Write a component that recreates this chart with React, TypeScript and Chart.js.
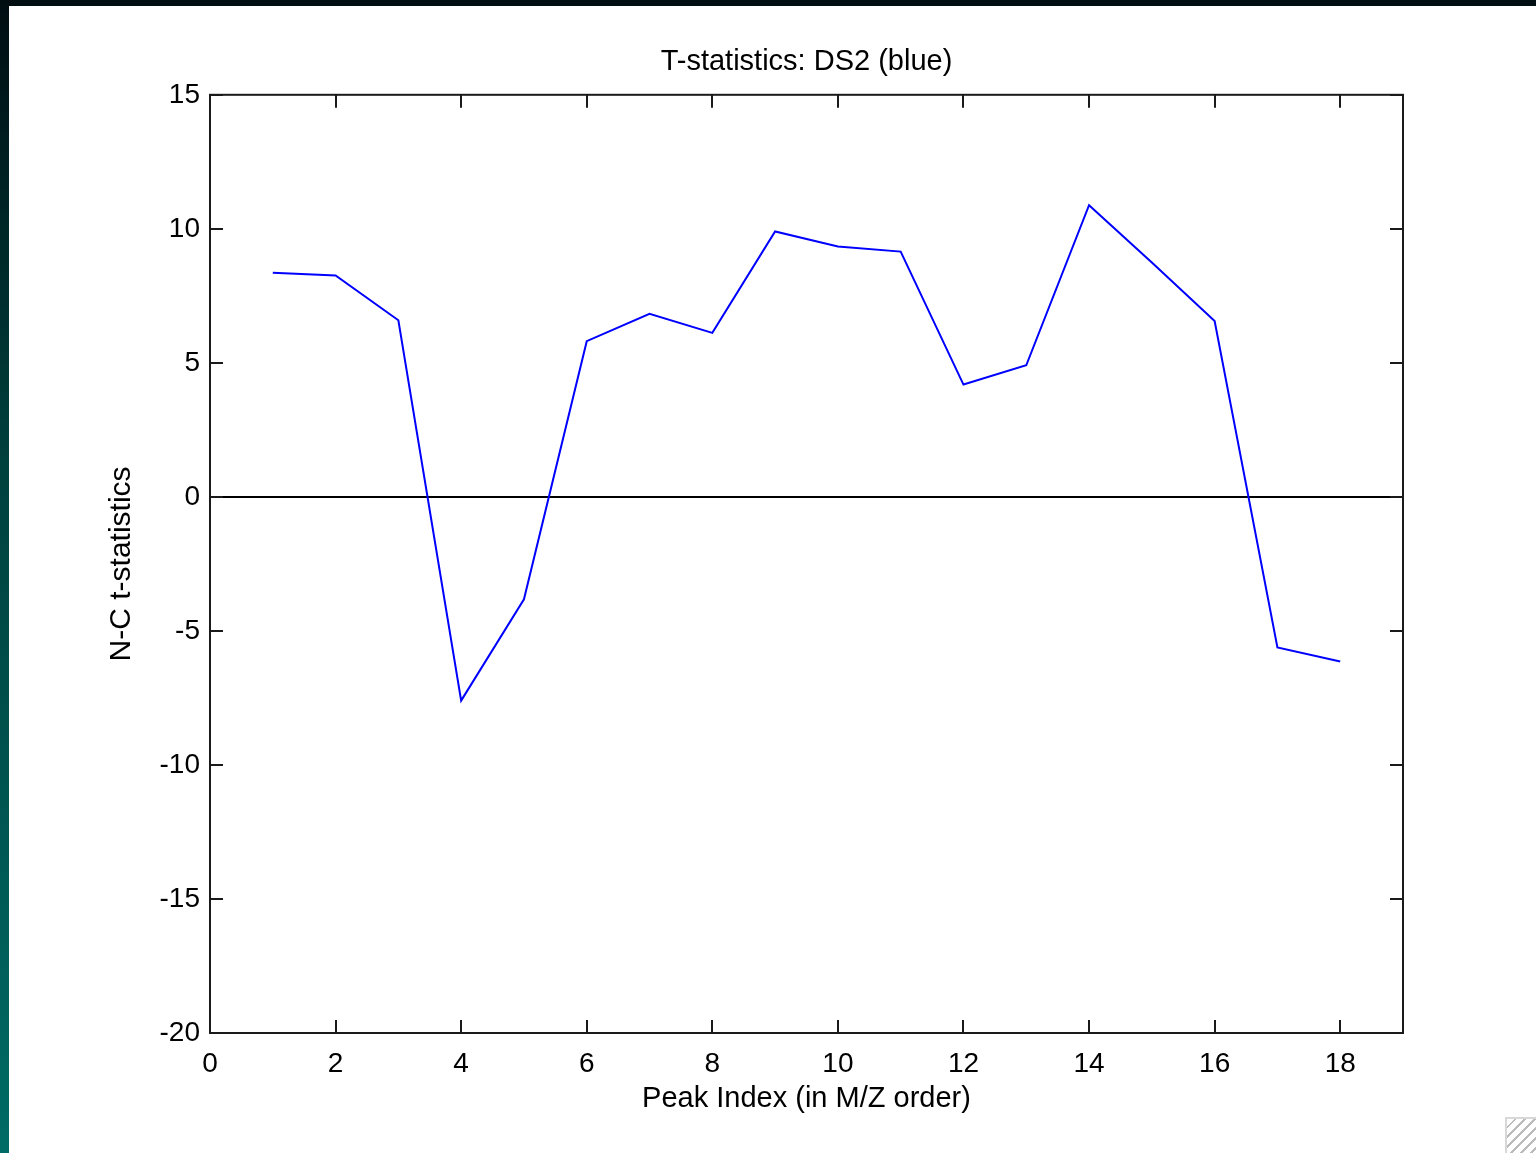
import { useEffect, useRef } from "react";
import { Chart, registerables } from "chart.js";

Chart.register(...registerables);

// peak index (x) and N-C t-statistic (y)
const peakIndex = [1, 2, 3, 4, 5, 6, 7, 8, 9, 10, 11, 12, 13, 14, 15, 16, 17, 18];
const tStats = [
  8.36, 8.26, 6.59, -7.6, -3.82, 5.81, 6.83, 6.12, 9.9, 9.34, 9.15, 4.19, 4.91,
  10.88, 8.74, 6.56, -5.62, -6.14,
];
const xTicks = [0, 2, 4, 6, 8, 10, 12, 14, 16, 18];
const yTicks = [-20, -15, -10, -5, 0, 5, 10, 15];

const FONT = '"Liberation Sans", Arial, Helvetica, sans-serif';

// MATLAB style box with inward tick marks on all four sides
const boxPlugin = {
  id: "matlabBox",
  afterDraw(chart: any) {
    const { ctx, chartArea: a } = chart;
    const xs = chart.scales.x;
    const ys = chart.scales.y;
    const len = 13;
    ctx.save();
    ctx.strokeStyle = "#1a1a1a";
    ctx.lineWidth = 2;
    ctx.strokeRect(a.left, a.top, a.right - a.left, a.bottom - a.top);
    ctx.beginPath();
    xTicks.forEach((v) => {
      const px = Math.round(xs.getPixelForValue(v));
      ctx.moveTo(px, a.bottom);
      ctx.lineTo(px, a.bottom - len);
      ctx.moveTo(px, a.top);
      ctx.lineTo(px, a.top + len);
    });
    yTicks.forEach((v) => {
      const py = Math.round(ys.getPixelForValue(v));
      ctx.moveTo(a.left, py);
      ctx.lineTo(a.left + len, py);
      ctx.moveTo(a.right, py);
      ctx.lineTo(a.right - len, py);
    });
    ctx.stroke();
    ctx.restore();
  },
};

export default function App() {
  const canvasRef = useRef<HTMLCanvasElement | null>(null);

  useEffect(() => {
    const canvas = canvasRef.current;
    if (!canvas) return;

    const chart = new Chart(canvas, {
      type: "line",
      data: {
        datasets: [
          {
            label: "DS2",
            data: peakIndex.map((x, i) => ({ x, y: tStats[i] })),
            borderColor: "#0000ff",
            borderWidth: 2,
            pointRadius: 0,
            tension: 0,
            fill: false,
          },
        ],
      },
      options: {
        responsive: false,
        animation: false,
        devicePixelRatio: 1,
        layout: { padding: { left: 0, right: 133, top: 0, bottom: 0 } },
        plugins: {
          legend: { display: false },
          tooltip: { enabled: false },
          title: {
            display: true,
            text: "T-statistics: DS2 (blue)",
            color: "#000",
            fullSize: false,
            font: { family: FONT, size: 29, weight: "normal" },
            padding: { top: 45, bottom: 15 },
          },
        },
        scales: {
          x: {
            type: "linear",
            min: 0,
            max: 19,
            afterFit: (s: any) => {
              s.height = 120;
            },
            afterBuildTicks: (s: any) => {
              s.ticks = xTicks.map((value) => ({ value }));
            },
            grid: { display: false, drawTicks: false },
            border: { display: false },
            ticks: {
              color: "#000",
              padding: 14,
              maxRotation: 0,
              font: { family: FONT, size: 28 },
            },
            title: {
              display: true,
              text: "Peak Index (in M/Z order)",
              color: "#000",
              font: { family: FONT, size: 29 },
              padding: { top: 0, bottom: 37 },
            },
          },
          y: {
            type: "linear",
            min: -20,
            max: 15,
            z: 1,
            afterFit: (s: any) => {
              s.width = 210;
            },
            afterBuildTicks: (s: any) => {
              s.ticks = yTicks.map((value) => ({ value }));
            },
            grid: {
              drawTicks: false,
              lineWidth: 2,
              color: (c: any) => (c.tick && c.tick.value === 0 ? "#000" : "rgba(0,0,0,0)"),
            },
            border: { display: false },
            ticks: {
              color: "#000",
              padding: 10,
              font: { family: FONT, size: 28 },
            },
            title: {
              display: true,
              text: "N-C t-statistics",
              color: "#000",
              font: { family: FONT, size: 30 },
              padding: { top: 104, bottom: 0 },
            },
          },
        },
      },
      plugins: [boxPlugin],
    });

    return () => {
      chart.destroy();
    };
  }, []);

  return (
    <div
      style={{
        position: "fixed",
        inset: 0,
        background: "linear-gradient(to bottom, #000e12 0%, #00403d 40%, #006b65 100%)",
      }}
    >
      <div
        style={{
          position: "absolute",
          left: 9,
          top: 6,
          right: 0,
          bottom: 0,
          background: "#fff",
        }}
      />
      <canvas
        ref={canvasRef}
        width={1536}
        height={1153}
        style={{ position: "absolute", left: 0, top: 0, width: 1536, height: 1153 }}
      />
      <div
        style={{
          position: "absolute",
          right: 0,
          bottom: 0,
          width: 29,
          height: 34,
          borderTop: "2px solid #d8d8d8",
          borderLeft: "2px solid #d8d8d8",
          background:
            "repeating-linear-gradient(135deg, #fff 0px, #fff 5px, #bbb 5px, #bbb 7px)",
        }}
      />
    </div>
  );
}
